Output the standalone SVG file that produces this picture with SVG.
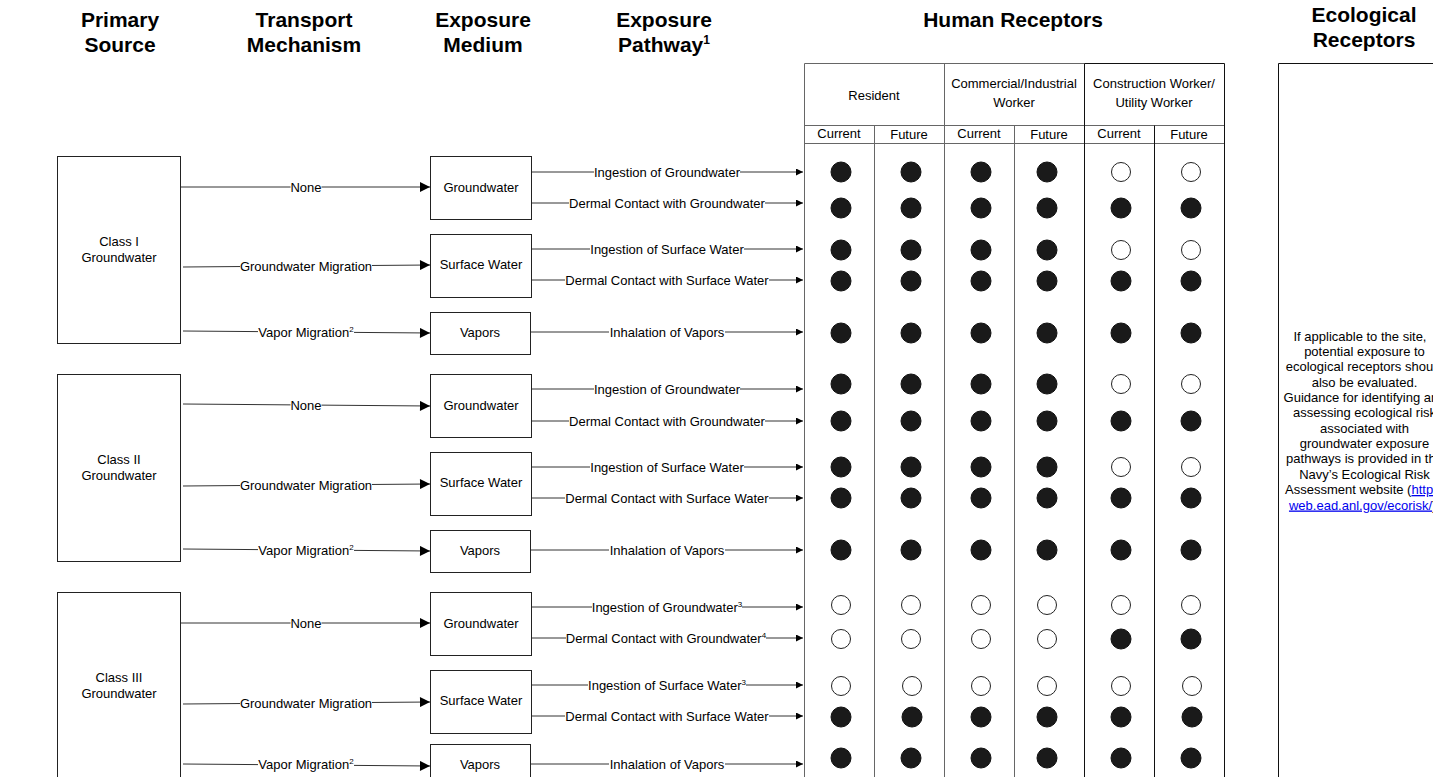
<svg xmlns="http://www.w3.org/2000/svg" width="1433" height="777" viewBox="0 0 1433 777">
<style>
.h{font-family:"Liberation Sans",Arial,sans-serif;font-weight:bold;font-size:21px;text-anchor:middle;fill:#000}
.t{font-family:"Liberation Sans",Arial,sans-serif;font-size:13px;text-anchor:middle;fill:#000}
.lbl{font-family:"Liberation Sans",Arial,sans-serif;font-size:13px;text-anchor:middle;fill:#000}
.sup{font-size:8px}
.hsup{font-size:12px}
.bg{fill:#fff;stroke:none}
.box{fill:#fff;stroke:#222;stroke-width:1}
.tA{fill:none;stroke:#333;stroke-width:1;marker-end:url(#arrL)}
.pA{fill:none;stroke:#333;stroke-width:1;marker-end:url(#arrS)}
.grid{stroke:#666;stroke-width:1;fill:none}
.gridk{stroke:#111;stroke-width:1;fill:none}
.f{fill:#1a1a1a;stroke:#111;stroke-width:1}
.o{fill:#fff;stroke:#222;stroke-width:1}
.link{fill:#0000ee;text-decoration:underline}
</style>
<defs>
<marker id="arrL" viewBox="0 0 10 10" refX="10" refY="5" markerWidth="11" markerHeight="10" markerUnits="userSpaceOnUse" orient="auto"><path d="M0,0 L10,5 L0,10 z" fill="#000"/></marker>
<marker id="arrS" viewBox="0 0 10 10" refX="10" refY="5" markerWidth="8" markerHeight="7" markerUnits="userSpaceOnUse" orient="auto"><path d="M0,0 L10,5 L0,10 z" fill="#000"/></marker>
</defs>
<rect width="1433" height="777" fill="#fff"/>

<g id="headers">
<text class="h" x="120" y="26.5">Primary</text>
<text class="h" x="120" y="51.5">Source</text>
<text class="h" x="304" y="26.5">Transport</text>
<text class="h" x="304" y="51.5">Mechanism</text>
<text class="h" x="483" y="26.5">Exposure</text>
<text class="h" x="483" y="51.5">Medium</text>
<text class="h" x="664" y="26.5">Exposure</text>
<text class="h" x="664" y="51.5">Pathway<tspan class="hsup" dy="-8">1</tspan></text>
<text class="h" x="1013" y="27">Human Receptors</text>
<text class="h" x="1364" y="22">Ecological</text>
<text class="h" x="1364" y="46.5">Receptors</text>
</g>

<g id="connectors">
<!-- Class I -->
<path class="tA" d="M180,187 L430,187"/>
<path class="tA" d="M183,267 L430,265"/>
<path class="tA" d="M183,331 L430,333"/>
<path class="pA" d="M531,172 L803,172"/>
<path class="pA" d="M531,203 L803,203"/>
<path class="pA" d="M531,249 L803,249"/>
<path class="pA" d="M531,280 L803,280"/>
<path class="pA" d="M530,332 L803,332"/>
<!-- Class II -->
<path class="tA" d="M183,404 L430,406"/>
<path class="tA" d="M183,486 L430,484"/>
<path class="tA" d="M183,549 L430,551"/>
<path class="pA" d="M531,389 L803,389"/>
<path class="pA" d="M531,421 L803,421"/>
<path class="pA" d="M531,467 L803,467"/>
<path class="pA" d="M531,498 L803,498"/>
<path class="pA" d="M530,550 L803,550"/>
<!-- Class III -->
<path class="tA" d="M181,623 L430,623"/>
<path class="tA" d="M183,704 L430,702"/>
<path class="tA" d="M183,764 L430,766"/>
<path class="pA" d="M531,607 L803,607"/>
<path class="pA" d="M531,638 L803,638"/>
<path class="pA" d="M531,685 L803,685"/>
<path class="pA" d="M531,716 L803,716"/>
<path class="pA" d="M530,764 L803,764"/>

<g id="label-backgrounds">
<rect class="bg" x="290.5" y="181" width="31" height="12"/>
<rect class="bg" x="240" y="260" width="132" height="12"/>
<rect class="bg" x="258" y="326" width="96" height="12"/>
<rect class="bg" x="594" y="167" width="146" height="10"/>
<rect class="bg" x="569" y="198" width="196" height="10"/>
<rect class="bg" x="590" y="244" width="154" height="10"/>
<rect class="bg" x="565" y="275" width="204" height="10"/>
<rect class="bg" x="609" y="327" width="116" height="10"/>

<rect class="bg" x="290.5" y="399" width="31" height="12"/>
<rect class="bg" x="240" y="479" width="132" height="12"/>
<rect class="bg" x="258" y="544" width="96" height="12"/>
<rect class="bg" x="594" y="384" width="146" height="10"/>
<rect class="bg" x="569" y="416" width="196" height="10"/>
<rect class="bg" x="590" y="462" width="154" height="10"/>
<rect class="bg" x="565" y="493" width="204" height="10"/>
<rect class="bg" x="609" y="545" width="116" height="10"/>

<rect class="bg" x="290.5" y="617" width="31" height="12"/>
<rect class="bg" x="240" y="697" width="132" height="12"/>
<rect class="bg" x="258" y="759" width="96" height="12"/>
<rect class="bg" x="592" y="602" width="150" height="10"/>
<rect class="bg" x="566" y="633" width="200" height="10"/>
<rect class="bg" x="588" y="680" width="158" height="10"/>
<rect class="bg" x="565" y="711" width="204" height="10"/>
<rect class="bg" x="609" y="759" width="116" height="10"/>
</g>

<text class="lbl" x="306" y="191.5">None</text>
<text class="lbl" x="306" y="270.5">Groundwater Migration</text>
<text class="lbl" x="306" y="336.5">Vapor Migration<tspan class="sup" dy="-5">2</tspan></text>
<text class="lbl" x="667" y="176.5">Ingestion of Groundwater</text>
<text class="lbl" x="667" y="207.5">Dermal Contact with Groundwater</text>
<text class="lbl" x="667" y="253.5">Ingestion of Surface Water</text>
<text class="lbl" x="667" y="284.5">Dermal Contact with Surface Water</text>
<text class="lbl" x="667" y="336.5">Inhalation of Vapors</text>

<text class="lbl" x="306" y="409.5">None</text>
<text class="lbl" x="306" y="489.5">Groundwater Migration</text>
<text class="lbl" x="306" y="554.5">Vapor Migration<tspan class="sup" dy="-5">2</tspan></text>
<text class="lbl" x="667" y="393.5">Ingestion of Groundwater</text>
<text class="lbl" x="667" y="425.5">Dermal Contact with Groundwater</text>
<text class="lbl" x="667" y="471.5">Ingestion of Surface Water</text>
<text class="lbl" x="667" y="502.5">Dermal Contact with Surface Water</text>
<text class="lbl" x="667" y="554.5">Inhalation of Vapors</text>

<text class="lbl" x="306" y="627.5">None</text>
<text class="lbl" x="306" y="707.5">Groundwater Migration</text>
<text class="lbl" x="306" y="768.5">Vapor Migration<tspan class="sup" dy="-5">2</tspan></text>
<text class="lbl" x="667" y="611.5">Ingestion of Groundwater<tspan class="sup" dy="-5">3</tspan></text>
<text class="lbl" x="666" y="642.5">Dermal Contact with Groundwater<tspan class="sup" dy="-5">4</tspan></text>
<text class="lbl" x="667" y="689.5">Ingestion of Surface Water<tspan class="sup" dy="-5">3</tspan></text>
<text class="lbl" x="667" y="720.5">Dermal Contact with Surface Water</text>
<text class="lbl" x="667" y="768.5">Inhalation of Vapors</text>
</g>

<g id="class1"><rect class="box" x="57.5" y="156.5" width="123" height="187"/><text class="t" x="119" y="245.5">Class I</text><text class="t" x="119" y="261.5">Groundwater</text></g>
<g id="class2"><rect class="box" x="57.5" y="374.5" width="123" height="187"/><text class="t" x="119" y="463.5">Class II</text><text class="t" x="119" y="479.5">Groundwater</text></g>
<g id="class3"><rect class="box" x="57.5" y="592.5" width="123" height="200"/><text class="t" x="119" y="681.5">Class III</text><text class="t" x="119" y="697.5">Groundwater</text></g>

<g id="gw1"><rect class="box" x="430.5" y="156.5" width="101" height="63"/><text class="t" x="481" y="191.5">Groundwater</text></g>
<g id="sw1"><rect class="box" x="430.5" y="234.5" width="101" height="63"/><text class="t" x="481" y="268.5">Surface Water</text></g>
<g id="vp1"><rect class="box" x="430.5" y="312.5" width="100" height="42"/><text class="t" x="480" y="336.5">Vapors</text></g>
<g id="gw2"><rect class="box" x="430.5" y="374.5" width="101" height="63"/><text class="t" x="481" y="409.5">Groundwater</text></g>
<g id="sw2"><rect class="box" x="430.5" y="452.5" width="101" height="63"/><text class="t" x="481" y="486.5">Surface Water</text></g>
<g id="vp2"><rect class="box" x="430.5" y="530.5" width="100" height="42"/><text class="t" x="480" y="554.5">Vapors</text></g>
<g id="gw3"><rect class="box" x="430.5" y="592.5" width="101" height="63"/><text class="t" x="481" y="627.5">Groundwater</text></g>
<g id="sw3"><rect class="box" x="430.5" y="670.5" width="101" height="63"/><text class="t" x="481" y="704.5">Surface Water</text></g>
<g id="vp3"><rect class="box" x="430.5" y="744.5" width="100" height="42"/><text class="t" x="480" y="768.5">Vapors</text></g>

<g id="human-receptors">
<path class="grid" d="M804.5,63.5 H1084.5 M804.5,63.5 V777 M874.5,125.5 V777 M944.5,63.5 V777 M1014.5,125.5 V777 M804.5,125.5 H1224.5 M804.5,143.5 H1224.5"/>
<path class="gridk" d="M1084.5,63.5 H1224.5 M1084.5,63.5 V777 M1154.5,125.5 V777 M1224.5,63.5 V777"/>
<text class="t" x="874" y="99.5">Resident</text>
<text class="t" x="1014" y="87.5">Commercial/Industrial</text>
<text class="t" x="1014" y="106.5">Worker</text>
<text class="t" x="1154" y="87.5">Construction Worker/</text>
<text class="t" x="1154" y="106.5">Utility Worker</text>
<text class="t" x="839" y="137.5">Current</text>
<text class="t" x="909" y="139">Future</text>
<text class="t" x="979" y="137.5">Current</text>
<text class="t" x="1049" y="139">Future</text>
<text class="t" x="1119" y="137.5">Current</text>
<text class="t" x="1189" y="139">Future</text>
<g id="dots">
<circle class="f" cx="841" cy="172" r="10"/><circle class="f" cx="911" cy="172" r="10"/><circle class="f" cx="981" cy="172" r="10"/><circle class="f" cx="1047" cy="172" r="10"/><circle class="o" cx="1121" cy="172" r="9.5"/><circle class="o" cx="1191" cy="172" r="9.5"/>
<circle class="f" cx="841" cy="208" r="10"/><circle class="f" cx="911" cy="208" r="10"/><circle class="f" cx="981" cy="208" r="10"/><circle class="f" cx="1047" cy="208" r="10"/><circle class="f" cx="1121" cy="208" r="10"/><circle class="f" cx="1191" cy="208" r="10"/>
<circle class="f" cx="841" cy="250" r="10"/><circle class="f" cx="911" cy="250" r="10"/><circle class="f" cx="981" cy="250" r="10"/><circle class="f" cx="1047" cy="250" r="10"/><circle class="o" cx="1121" cy="250" r="9.5"/><circle class="o" cx="1191" cy="250" r="9.5"/>
<circle class="f" cx="841" cy="281" r="10"/><circle class="f" cx="911" cy="281" r="10"/><circle class="f" cx="981" cy="281" r="10"/><circle class="f" cx="1047" cy="281" r="10"/><circle class="f" cx="1121" cy="281" r="10"/><circle class="f" cx="1191" cy="281" r="10"/>
<circle class="f" cx="841" cy="333" r="10"/><circle class="f" cx="911" cy="333" r="10"/><circle class="f" cx="981" cy="333" r="10"/><circle class="f" cx="1047" cy="333" r="10"/><circle class="f" cx="1121" cy="333" r="10"/><circle class="f" cx="1191" cy="333" r="10"/>
<circle class="f" cx="841" cy="384" r="10"/><circle class="f" cx="911" cy="384" r="10"/><circle class="f" cx="981" cy="384" r="10"/><circle class="f" cx="1047" cy="384" r="10"/><circle class="o" cx="1121" cy="384" r="9.5"/><circle class="o" cx="1191" cy="384" r="9.5"/>
<circle class="f" cx="841" cy="421" r="10"/><circle class="f" cx="911" cy="421" r="10"/><circle class="f" cx="981" cy="421" r="10"/><circle class="f" cx="1047" cy="421" r="10"/><circle class="f" cx="1121" cy="421" r="10"/><circle class="f" cx="1191" cy="421" r="10"/>
<circle class="f" cx="841" cy="467" r="10"/><circle class="f" cx="911" cy="467" r="10"/><circle class="f" cx="981" cy="467" r="10"/><circle class="f" cx="1047" cy="467" r="10"/><circle class="o" cx="1121" cy="467" r="9.5"/><circle class="o" cx="1191" cy="467" r="9.5"/>
<circle class="f" cx="841" cy="498" r="10"/><circle class="f" cx="911" cy="498" r="10"/><circle class="f" cx="981" cy="498" r="10"/><circle class="f" cx="1047" cy="498" r="10"/><circle class="f" cx="1121" cy="498" r="10"/><circle class="f" cx="1191" cy="498" r="10"/>
<circle class="f" cx="841" cy="550" r="10"/><circle class="f" cx="911" cy="550" r="10"/><circle class="f" cx="981" cy="550" r="10"/><circle class="f" cx="1047" cy="550" r="10"/><circle class="f" cx="1121" cy="550" r="10"/><circle class="f" cx="1191" cy="550" r="10"/>
<circle class="o" cx="841" cy="605" r="9.5"/><circle class="o" cx="911" cy="605" r="9.5"/><circle class="o" cx="981" cy="605" r="9.5"/><circle class="o" cx="1047" cy="605" r="9.5"/><circle class="o" cx="1121" cy="605" r="9.5"/><circle class="o" cx="1191" cy="605" r="9.5"/>
<circle class="o" cx="841" cy="639" r="9.5"/><circle class="o" cx="911" cy="639" r="9.5"/><circle class="o" cx="981" cy="639" r="9.5"/><circle class="o" cx="1047" cy="639" r="9.5"/><circle class="f" cx="1121" cy="639" r="10"/><circle class="f" cx="1191" cy="639" r="10"/>
<circle class="o" cx="841" cy="686" r="9.5"/><circle class="o" cx="912" cy="686" r="9.5"/><circle class="o" cx="981" cy="686" r="9.5"/><circle class="o" cx="1047" cy="686" r="9.5"/><circle class="o" cx="1121" cy="686" r="9.5"/><circle class="o" cx="1192" cy="686" r="9.5"/>
<circle class="f" cx="841" cy="717" r="10"/><circle class="f" cx="912" cy="717" r="10"/><circle class="f" cx="981" cy="717" r="10"/><circle class="f" cx="1047" cy="717" r="10"/><circle class="f" cx="1121" cy="717" r="10"/><circle class="f" cx="1192" cy="717" r="10"/>
<circle class="f" cx="841" cy="758" r="10"/><circle class="f" cx="911" cy="758" r="10"/><circle class="f" cx="981" cy="758" r="10"/><circle class="f" cx="1047" cy="758" r="10"/><circle class="f" cx="1121" cy="758" r="10"/><circle class="f" cx="1191" cy="758" r="10"/>
</g>
</g>

<g id="ecological-receptors">
<path class="gridk" d="M1278.5,63.5 H1433 M1278.5,63.5 V777"/>
<text class="t" x="1360" y="340.5">If applicable to the site,</text>
<text class="t" x="1364.5" y="356">potential exposure to</text>
<text class="t" x="1364.5" y="371.2">ecological receptors should</text>
<text class="t" x="1364.5" y="386.6">also be evaluated.</text>
<text class="t" x="1364.5" y="402">Guidance for identifying and</text>
<text class="t" x="1364.5" y="417.3">assessing ecological risk</text>
<text class="t" x="1364.5" y="432.7">associated with</text>
<text class="t" x="1364.5" y="448">groundwater exposure</text>
<text class="t" x="1364.5" y="463.4">pathways is provided in the</text>
<text class="t" x="1364.5" y="478.7">Navy’s Ecological Risk</text>
<text class="t" x="1364.5" y="494">Assessment website (<tspan class="link">http://</tspan></text>
<text class="t" x="1364.5" y="509.5"><tspan class="link">web.ead.anl.gov/ecorisk/</tspan>).</text>
</g>
</svg>
